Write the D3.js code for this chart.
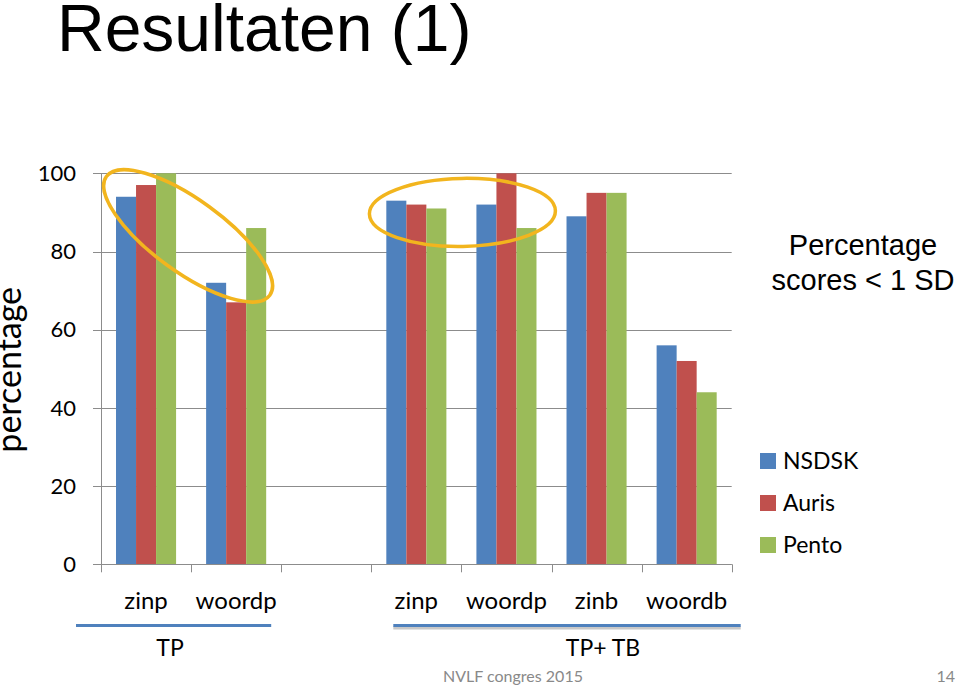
<!DOCTYPE html>
<html>
<head>
<meta charset="utf-8">
<script src="https://cdn.jsdelivr.net/npm/d3@7"></script>
<style>
  html, body { margin: 0; padding: 0; background: #fff; }
  svg { display: block; }
</style>
</head>
<body>
<svg id="chart" width="960" height="686"></svg>
<script>
// ---- data ----
const categories = ["zinp", "woordp", "", "zinp", "woordp", "zinb", "woordb"];
const seriesNames = ["NSDSK", "Auris", "Pento"];
const NSDSK = [94, 72, null, 93, 92, 89, 56];
const Auris = [97, 67, null, 92, 100, 95, 52];
const Pento = [100, 86, null, 91, 86, 95, 44];
const yTicks = [0, 20, 40, 60, 80, 100];
const groupLabels = ["TP", "TP+ TB"];
const groupFrom = [0, 3];
const groupTo = [1, 6];

const seriesValues = [NSDSK, Auris, Pento];
const colors = ["#4F81BD", "#C0504D", "#9BBB59"];

const svg = d3.select("#chart");
const calibri = "Lato, 'Open Sans', sans-serif";
const arial = "'Liberation Sans', Arial, sans-serif";

const plotLeft = 101, plotRight = 731.7, plotTop = 173.3, plotBottom = 564.3;

const x = d3.scaleBand().domain(d3.range(categories.length)).range([plotLeft, plotRight]).padding(0);
const x1 = d3.scaleBand().domain(d3.range(seriesNames.length)).range([0, x.bandwidth()]).paddingInner(0).paddingOuter(0.75);
const y = d3.scaleLinear().domain([0, 100]).range([plotBottom, plotTop]);

// title
svg.append("text").attr("x", 57).attr("y", 51)
  .attr("font-family", arial).attr("font-size", 66).attr("fill", "#000")
  .text("Resultaten (1)");

// gridlines
const grid = "#8c8c8c";
svg.append("g").selectAll("line").data(yTicks).join("line")
  .attr("x1", plotLeft - 8).attr("x2", plotRight)
  .attr("y1", d => Math.round(y(d)) + 0.5).attr("y2", d => Math.round(y(d)) + 0.5)
  .attr("stroke", grid).attr("stroke-width", 1);

// y axis line
svg.append("line").attr("x1", plotLeft + 0.5).attr("x2", plotLeft + 0.5)
  .attr("y1", plotTop).attr("y2", plotBottom).attr("stroke", grid);

// y tick labels
svg.append("g").selectAll("text").data(yTicks).join("text")
  .attr("x", 76).attr("y", d => y(d)).attr("dy", "0.35em")
  .attr("text-anchor", "end").attr("font-family", calibri).attr("font-size", 22)
  .attr("fill", "#000").text(d => d);

// x tick marks
const bounds = d3.range(categories.length + 1).map(i => i < categories.length ? x(i) : plotRight);
svg.append("g").selectAll("line").data(bounds).join("line")
  .attr("x1", d => Math.round(d) + 0.5).attr("x2", d => Math.round(d) + 0.5)
  .attr("y1", plotBottom).attr("y2", plotBottom + 8)
  .attr("stroke", grid);

// bars
const barData = [];
seriesValues.forEach((vals, s) => vals.forEach((v, i) => { if (v != null) barData.push({ s, i, v }); }));
svg.append("g").selectAll("rect").data(barData).join("rect")
  .attr("x", d => x(d.i) + x1(d.s))
  .attr("width", x1.bandwidth())
  .attr("y", d => y(d.v))
  .attr("height", d => y(0) - y(d.v))
  .attr("fill", d => colors[d.s]);

// redraw baseline over bars
svg.append("line").attr("x1", plotLeft - 8).attr("x2", plotRight)
  .attr("y1", Math.round(y(0)) + 0.5).attr("y2", Math.round(y(0)) + 0.5).attr("stroke", grid);

// category labels
svg.append("g").selectAll("text").data(categories).join("text")
  .attr("x", (d, i) => x(i) + x.bandwidth() / 2).attr("y", 609)
  .attr("text-anchor", "middle").attr("font-family", calibri).attr("font-size", 24)
  .attr("fill", "#000").text(d => d);

// y axis title
svg.append("text")
  .attr("transform", `translate(21, ${y(50) + 1}) rotate(-90)`)
  .attr("text-anchor", "middle").attr("font-family", calibri).attr("font-size", 34)
  .attr("fill", "#000").text("percentage");

// ellipses (annotations)
const ellColor = "#F2B51E";
svg.append("ellipse")
  .attr("transform", `translate(${x(1) - 3}, ${y(84)}) rotate(36)`)
  .attr("rx", 101).attr("ry", 36)
  .attr("fill", "none").attr("stroke", ellColor).attr("stroke-width", 3.5);
svg.append("ellipse")
  .attr("transform", `translate(${x(4) + 1}, ${y(90)}) rotate(-1)`)
  .attr("rx", 93).attr("ry", 34)
  .attr("fill", "none").attr("stroke", ellColor).attr("stroke-width", 3.5);

// group underline + labels
const lineStart = [x(groupFrom[0]) - 25, x(groupFrom[1]) + 22];
const lineEnd = [x(groupTo[0]) + x.bandwidth() - 10, x(groupTo[1]) + x.bandwidth() + 9];
const labelX = [170, 603];
groupLabels.forEach((g, k) => {
  if (k === 1) {
    svg.append("line").attr("x1", lineStart[k]).attr("x2", lineEnd[k])
      .attr("y1", 628).attr("y2", 628).attr("stroke", "#c8c8c8").attr("stroke-width", 3);
  }
  svg.append("line").attr("x1", lineStart[k]).attr("x2", lineEnd[k])
    .attr("y1", 625.5).attr("y2", 625.5).attr("stroke", "#4F81BD").attr("stroke-width", 3);
  svg.append("text").attr("x", labelX[k]).attr("y", 656)
    .attr("text-anchor", "middle").attr("font-family", calibri).attr("font-size", 23)
    .attr("fill", "#000").text(g);
});

// legend title
svg.append("text").attr("x", 863).attr("y", 255).attr("text-anchor", "middle")
  .attr("font-family", arial).attr("font-size", 29).attr("fill", "#000").text("Percentage");
svg.append("text").attr("x", 863).attr("y", 290).attr("text-anchor", "middle")
  .attr("font-family", arial).attr("font-size", 29).attr("fill", "#000").text("scores < 1 SD");

// legend
const legend = svg.append("g").selectAll("g").data(seriesNames).join("g")
  .attr("transform", (d, i) => `translate(760, ${453 + i * 42})`);
legend.append("rect").attr("width", 16).attr("height", 16).attr("fill", (d, i) => colors[i]);
legend.append("text").attr("x", 23).attr("y", 8).attr("dy", "0.35em")
  .attr("font-family", calibri).attr("font-size", 23).attr("fill", "#000").text(d => d);

// footer
svg.append("text").attr("x", 513).attr("y", 682).attr("text-anchor", "middle")
  .attr("font-family", calibri).attr("font-size", 16).attr("fill", "#898989").text("NVLF congres 2015");
svg.append("text").attr("x", 955).attr("y", 682).attr("text-anchor", "end")
  .attr("font-family", calibri).attr("font-size", 16).attr("fill", "#898989").text("14");
</script>
</body>
</html>
